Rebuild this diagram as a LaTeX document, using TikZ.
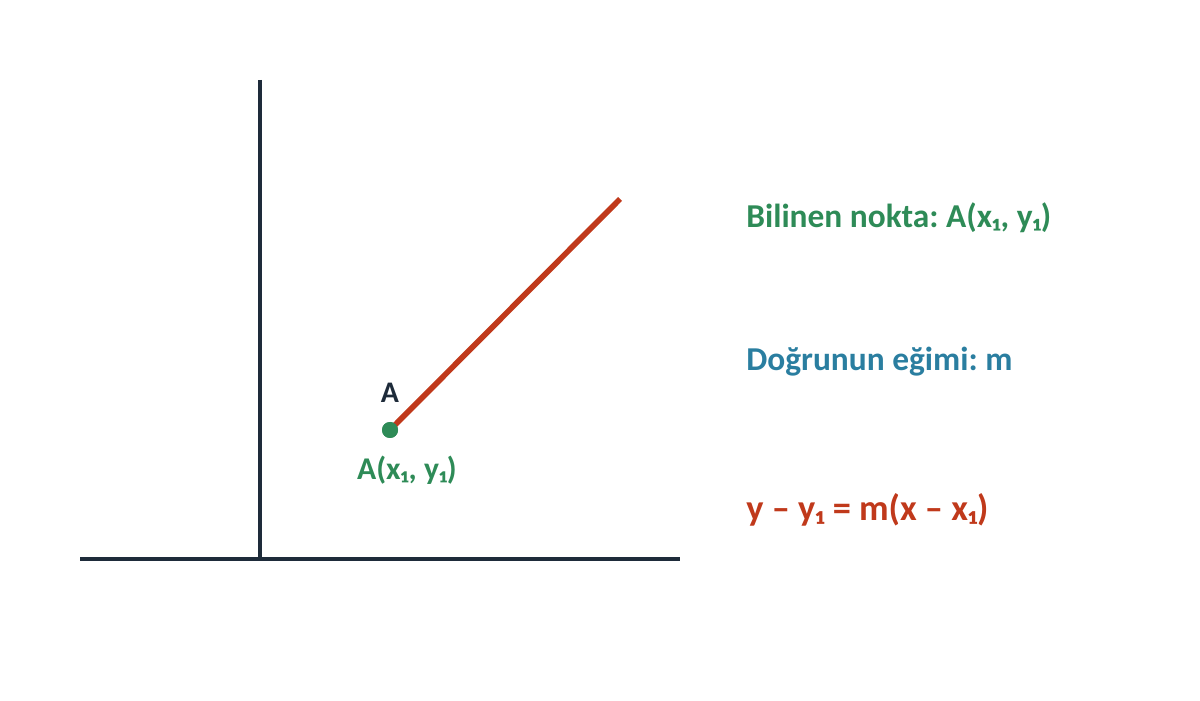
\documentclass[tikz,border=0pt]{standalone}
\usepackage{fontspec}
\setmainfont{Carlito}
\frenchspacing
\definecolor{axisnavy}{HTML}{1E2B3A}
\definecolor{linered}{HTML}{C0391B}
\definecolor{ptgreen}{HTML}{2E8B57}
\definecolor{slopeblue}{HTML}{2A7EA0}
\begin{document}
\begin{tikzpicture}[
    axisline/.style={draw=axisnavy, line width=2.3pt},
    slopeline/.style={draw=linered, line width=3.2pt},
    infotext/.style={anchor=west, inner sep=0pt, font=\fontsize{19}{22}\selectfont\bfseries}]
  \useasboundingbox (0,0) rectangle (24,14);
  \coordinate (ytop) at (5.2,12.4);
  \coordinate (ybot) at (5.2,2.82);
  \coordinate (xleft) at (1.6,2.82);
  \coordinate (xright) at (13.6,2.82);
  \coordinate (B) at (12.4,10.02);
  \draw[axisline] (ytop) -- (ybot);
  \draw[axisline] (xleft) -- (xright);
  \node[circle, fill=ptgreen, inner sep=0pt, minimum size=0.32cm] (A) at (7.8,5.4) {};
  \draw[slopeline] (A.center) -- (B);
  \fill[ptgreen] (A) circle (0.16);
  \node[font=\fontsize{17}{20}\selectfont\bfseries, text=axisnavy] (Alabel) at (7.8,6.14) {A};
  \node[font=\fontsize{18}{21}\selectfont\bfseries, text=ptgreen] (Acoord) at (8.14,4.6) {A(x₁, y₁)};
  \node[infotext, text=ptgreen] (known) at (14.92,9.64) {Bilinen nokta: A(x₁, y₁)};
  \node[infotext, text=slopeblue] (slope) at (14.92,6.76) {Doğrunun eğimi: m};
  \node[infotext, text=linered, font=\fontsize{20.7}{24}\selectfont\bfseries] (eqn) at (14.92,3.8) {y – y₁ = m(x – x₁)};
\end{tikzpicture}
\end{document}
